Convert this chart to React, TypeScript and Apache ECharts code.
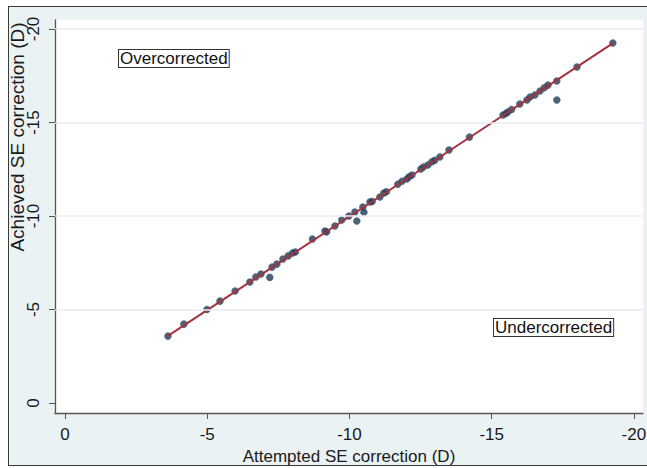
import React, { useEffect, useRef } from "react";
import * as echarts from "echarts";

const attempted = [
  -3.62, -4.18, -4.99, -5.45, -5.98, -6.5, -6.71, -6.89, -7.2, -7.28, -7.45, -7.66, -7.85, -8.0, -8.1,
  -8.7, -9.14, -9.2, -9.49, -9.73, -9.98, -10.19, -10.26, -10.47, -10.51, -10.72, -10.8, -11.07, -11.21,
  -11.3, -11.7, -11.85, -12.02, -12.1, -12.2, -12.51, -12.6, -12.76, -12.9, -13.0, -13.18, -13.5, -14.22,
  -15.4, -15.5, -15.57, -15.7, -15.99, -16.24, -16.35, -16.52, -16.7, -16.85, -16.98, -17.29, -17.29,
  -18.0, -19.26,
];
const achieved = [
  -3.58, -4.22, -5.0, -5.45, -5.99, -6.47, -6.74, -6.9, -6.72, -7.27, -7.43, -7.7, -7.87, -8.02, -8.08,
  -8.77, -9.2, -9.15, -9.47, -9.79, -10.0, -10.21, -9.73, -10.48, -10.2, -10.75, -10.78, -11.02, -11.23,
  -11.3, -11.7, -11.86, -11.98, -12.1, -12.19, -12.51, -12.62, -12.73, -12.9, -12.98, -13.16, -13.53, -14.22,
  -15.4, -15.48, -15.56, -15.7, -15.99, -16.2, -16.36, -16.47, -16.68, -16.86, -17.0, -16.2, -17.22,
  -17.97, -19.25,
];
const fitLine = [
  [-3.58, -3.55],
  [-19.28, -19.26],
];
const tickValues = [0, -5, -10, -15, -20];
const gridValues = [-20, -15, -10, -5];

export default function App() {
  const ref = useRef<HTMLDivElement>(null);
  useEffect(() => {
    if (!ref.current) return;
    const chart = echarts.init(ref.current, null, { renderer: "svg" });
    const font = "Liberation Sans, Arial, sans-serif";
    chart.setOption({
      animation: false,
      textStyle: { fontFamily: font },
      grid: {
        left: 55,
        top: 20,
        right: 4,
        bottom: 55,
        containLabel: false,
        outerBoundsMode: "none",
        show: true,
        backgroundColor: "#ffffff",
        borderWidth: 0,
      },
      xAxis: {
        type: "value",
        inverse: true,
        min: -20.32,
        max: 0.35,
        name: "Attempted SE correction (D)",
        nameLocation: "middle",
        nameGap: 27,
        nameTextStyle: { fontSize: 17, color: "#1a1a1a", fontFamily: font },
        axisLine: { show: true, onZero: false, lineStyle: { color: "#555", width: 1.3 } },
        axisTick: { show: true, length: 6, customValues: tickValues, lineStyle: { color: "#555" } },
        axisLabel: { customValues: tickValues, fontSize: 17, color: "#1a1a1a", margin: 13, fontFamily: font },
        splitLine: { show: false },
      },
      yAxis: {
        type: "value",
        inverse: true,
        min: -20.48,
        max: 0.53,
        axisLine: { show: true, onZero: false, lineStyle: { color: "#555", width: 1.3 } },
        axisTick: { show: true, length: 6, customValues: tickValues, lineStyle: { color: "#555" } },
        axisLabel: {
          customValues: tickValues,
          fontSize: 17,
          color: "#1a1a1a",
          margin: 13,
          rotate: 90,
          fontFamily: font,
        },
        splitLine: { show: false },
      },
      series: [
        {
          type: "line",
          data: [],
          silent: true,
          markLine: {
            silent: true,
            symbol: "none",
            label: { show: false },
            lineStyle: { color: "#e6eef1", width: 1.5, type: "solid" },
            data: gridValues.map((v) => ({ yAxis: v })),
          },
          z: 1,
        },
        {
          type: "scatter",
          data: attempted.map((x, i) => [x, achieved[i]]),
          symbol: "circle",
          symbolSize: 7,
          itemStyle: { color: "#1d3c5c", borderColor: "#4a5a6a", borderWidth: 0.5 },
          z: 3,
        },
        {
          type: "line",
          data: fitLine,
          symbol: "none",
          lineStyle: { color: "#a3333f", width: 2 },
          z: 4,
        },
      ],
      graphic: [
        {
          type: "text",
          x: 17,
          y: 137,
          rotation: Math.PI / 2,
          style: {
            text: "Achieved SE correction (D)",
            fontSize: 19,
            fontFamily: font,
            fill: "#1a1a1a",
            align: "center",
            verticalAlign: "middle",
            textAlign: "center",
            textVerticalAlign: "middle",
          },
        },
        {
          type: "text",
          left: 118,
          top: 49,
          z: 10,
          style: {
            text: "Overcorrected",
            fontSize: 17,
            fontFamily: font,
            fill: "#111",
            borderColor: "#333",
            borderWidth: 1,
            padding: [0, 1, 0, 1],
            backgroundColor: "#fff",
          },
        },
        {
          type: "text",
          left: 493,
          top: 318,
          z: 10,
          style: {
            text: "Undercorrected",
            fontSize: 17,
            fontFamily: font,
            fill: "#111",
            borderColor: "#333",
            borderWidth: 1,
            padding: [0, 1, 0, 1],
            backgroundColor: "#fff",
          },
        },
      ],
    });
    return () => chart.dispose();
  }, []);
  return (
    <div style={{ position: "fixed", left: 0, top: 0, width: 647, height: 468, background: "#fff", overflow: "hidden" }}>
      <div
        style={{
          position: "absolute",
          left: 8,
          top: 6,
          width: 650,
          height: 460,
          background: "#eaf2f4",
          border: "1.5px solid #3a3a3a",
          boxSizing: "border-box",
        }}
      />
      <div ref={ref} style={{ position: "absolute", left: 0, top: 0, width: 647, height: 468 }} />
    </div>
  );
}
